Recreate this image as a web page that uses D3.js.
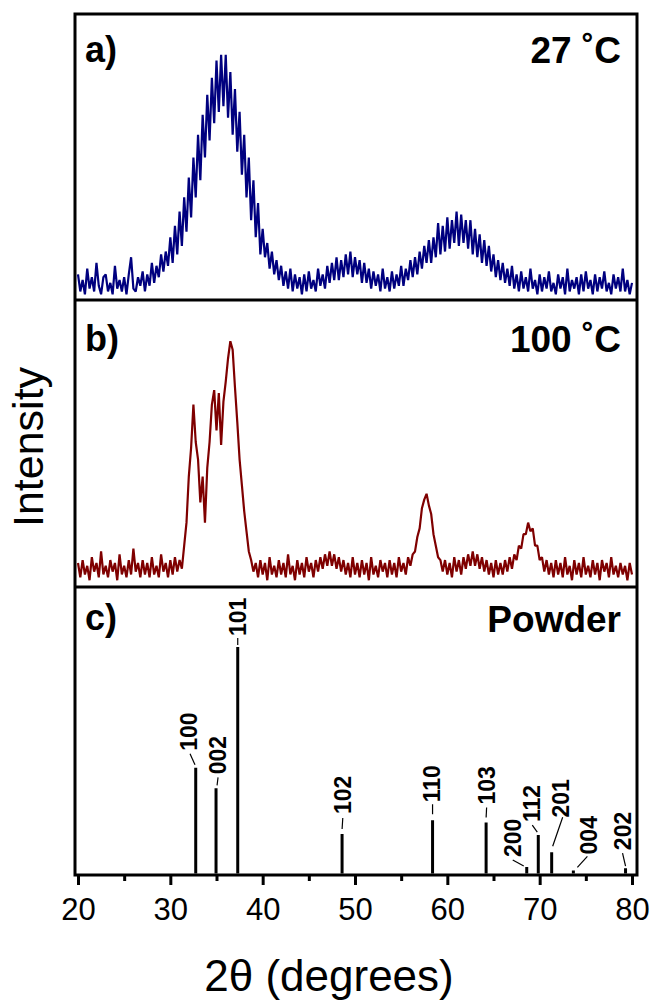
<!DOCTYPE html>
<html><head><meta charset="utf-8">
<script src="https://cdn.jsdelivr.net/npm/d3@7"></script>
<style>body{margin:0;background:#fff}svg text{font-family:"Liberation Sans",Arial,sans-serif}</style>
</head><body>
<script>
// ---------- data ----------
const scanStart = 20, scanStep = 0.25;   // 2θ grid of the scans
// a) 27 °C scan (a.u.), one row = 5°
const intensity27C = [
  9,3,7,2,11,4,8,3,13,5,2,8,9,3,6,2,12,4,7,3,
  8,2,9,15,4,3,8,5,10,3,9,5,13,6,12,8,16,10,17,12,
  22,13,26,16,31,19,36,24,43,29,50,36,58,42,65,50,72,56,78,62,
  84,66,86,68,86,64,80,58,74,52,66,44,58,36,50,28,42,22,34,16,
  25,15,20,11,17,9,14,7,12,5,10,4,11,3,9,4,8,2,9,3,
  10,4,7,3,11,5,9,4,12,6,13,7,15,7,14,8,16,9,17,8,
  15,9,14,6,13,6,11,4,10,5,9,3,11,4,8,3,10,4,9,5,
  12,5,11,7,14,8,15,9,17,11,19,13,21,13,22,15,27,16,26,17,
  29,18,28,20,31,19,30,20,28,18,28,16,25,15,23,13,21,12,19,10,
  16,8,14,7,13,6,11,5,12,4,9,3,10,4,8,3,11,4,7,2,
  9,3,8,4,10,3,6,2,9,4,8,2,11,3,7,4,8,2,9,3,
  10,4,7,2,9,3,8,4,10,3,6,2,9,4,8,3,11,3,7,2,
  6];
// b) 100 °C scan (a.u.)
const intensity100C = [
  8,3,9,4,7,2,10,5,8,3,12,4,7,3,9,5,8,2,11,4,
  7,3,9,4,13,5,8,3,9,4,8,3,10,4,7,3,11,5,8,3,
  9,4,10,5,9,6,14,22,38,48,63,50,44,29,38,22,41,50,63,68,
  54,67,49,64,71,79,85,82,69,57,44,35,26,19,12,9,5,8,3,9,
  4,8,2,10,4,7,3,9,4,8,3,11,4,7,2,9,4,8,3,10,
  5,8,3,9,5,10,6,11,7,12,7,11,6,10,5,9,4,8,3,10,
  4,8,3,9,4,8,2,10,4,7,3,9,5,8,3,9,4,8,3,10,
  5,8,4,10,7,11,12,17,20,27,30,32,28,25,18,14,10,9,5,9,
  4,8,3,10,5,9,4,10,6,11,7,12,7,11,6,10,5,9,4,8,
  3,9,4,8,4,9,5,10,6,11,9,14,13,18,18,22,19,20,14,14,
  9,10,5,9,4,8,3,9,4,8,3,10,4,7,2,9,4,8,3,10,
  4,7,3,9,4,8,2,9,5,8,3,10,4,7,3,8,4,7,2,8,
  4];
// c) powder reference pattern
const powderHKL = ["100","002","101","102","110","103","200","112","201","004","202"];
const powderTwoTheta = [32.75,34.95,37.3,48.6,58.4,64.2,68.6,69.85,71.3,73.65,79.3];
const powderIntensity = [47,38,100,18,24,23,3.5,17.5,10,2,3];

const xTicks = [20,30,40,50,60,70,80];
const xMinorTicks = [25,35,45,55,65,75];
const panelLetters = ["a)","b)","c)"];
const panelTitles = ["27 \u02DAC","100 \u02DAC","Powder"];

// ---------- layout (pixels) ----------
const W = 654, H = 1003;
const L = 75, R = 637, T = 14, D1 = 300, D2 = 587, B = 875;
// hkl label anchor offsets and leader lines, relative to the stick top
const labelOffset = [[-6.7,-17],[1.5,-14],[0.3,-11],[0.7,-20],[-0.3,-18],[1,-18],[-14.2,-10],[-5.8,-13],[9.3,-34.7],[15.7,-16],[-2.3,-18]];
const leaderLine = [[-5.7,-14,-0.7,-3],[2,-11,1,-3],[0,-9,0,-2],[0.7,-16,0,-5],[0,-16,0,-6],[0.5,-15,0,-5],[-14,-7,-3,-1],[-6,-10,-1,-3],[11,-35,1,-6],[14,-14,4,-3],[-3,-15,0,-2]];

const svg = d3.select("body").append("svg").attr("width", W).attr("height", H);
const x = d3.scaleLinear().domain([20, 80]).range([78, 632]);
const yA = d3.scaleLinear().domain([0, 100]).range([300, 15]);
const yB = d3.scaleLinear().domain([0, 100]).range([586, 298]);
const yC = d3.scaleLinear().domain([0, 100]).range([B, 647]);

const defs = svg.append("defs");
[[T, D1, "clipA"], [D1, D2, "clipB"], [D2, B, "clipC"]].forEach(([t, b, id]) => {
  defs.append("clipPath").attr("id", id).append("rect")
    .attr("x", L + 1.5).attr("y", t + 1.5).attr("width", R - L - 3).attr("height", b - t - 3);
});

function drawScan(values, yScale, color, clip) {
  const pts = values.map((v, i) => [scanStart + i * scanStep, v]);
  svg.append("path").datum(pts)
    .attr("clip-path", `url(#${clip})`)
    .attr("fill", "none").attr("stroke", color).attr("stroke-width", 2.2)
    .attr("stroke-linejoin", "bevel")
    .attr("d", d3.line().x(d => x(d[0])).y(d => yScale(d[1])));
}
drawScan(intensity27C, yA, "#00007f", "clipA");
drawScan(intensity100C, yB, "#7f0000", "clipB");

// powder sticks
const gC = svg.append("g").attr("clip-path", "url(#clipC)");
powderTwoTheta.forEach((t, i) => {
  const sx = x(t), sy = yC(powderIntensity[i]);
  gC.append("line").attr("x1", sx).attr("x2", sx).attr("y1", yC(0)).attr("y2", sy)
    .attr("stroke", "#000").attr("stroke-width", 3);
  const ll = leaderLine[i];
  gC.append("line").attr("x1", sx + ll[0]).attr("y1", sy + ll[1]).attr("x2", sx + ll[2]).attr("y2", sy + ll[3])
    .attr("stroke", "#000").attr("stroke-width", 1.2);
  const lo = labelOffset[i];
  gC.append("text").attr("transform", `translate(${sx + lo[0]},${sy + lo[1]}) rotate(-90)`)
    .attr("text-anchor", "start").attr("dominant-baseline", "central")
    .style("font-size", "23px").style("font-weight", "bold").text(powderHKL[i]);
});

// frame and dividers
svg.append("rect").attr("x", L).attr("y", T).attr("width", R - L).attr("height", B - T)
  .attr("fill", "none").attr("stroke", "#000").attr("stroke-width", 3);
[D1, D2].forEach(d => svg.append("line").attr("x1", L).attr("x2", R).attr("y1", d).attr("y2", d)
  .attr("stroke", "#000").attr("stroke-width", 3));

// x axis
const axMinor = svg.append("g").attr("transform", `translate(0,${B})`)
  .call(d3.axisBottom(x).tickValues(xMinorTicks).tickSize(6).tickFormat(""));
const axMajor = svg.append("g").attr("transform", `translate(0,${B})`)
  .call(d3.axisBottom(x).tickValues(xTicks).tickSize(10).tickPadding(13).tickFormat(d3.format("d")));
[axMinor, axMajor].forEach(g => {
  g.select(".domain").remove();
  g.selectAll(".tick line").attr("stroke", "#000").attr("stroke-width", 3);
});
axMajor.selectAll(".tick text").attr("fill", "#000")
  .style("font-size", "31px").style("font-family", "'Liberation Sans',Arial,sans-serif");

// panel letters and titles
const letterBase = [62, 351, 630];
const titleBase = [63, 352, 632];
panelLetters.forEach((s, i) => {
  svg.append("text").attr("x", 85).attr("y", letterBase[i])
    .style("font-size", "36px").style("font-weight", "bold").text(s);
  svg.append("text").attr("x", 621).attr("y", titleBase[i]).attr("text-anchor", "end")
    .style("font-size", "37px").style("font-weight", "bold").text(panelTitles[i]);
});

// axis titles
svg.append("text").attr("transform", "translate(43,447) rotate(-90)")
  .attr("text-anchor", "middle").style("font-size", "43px").text("Intensity");
svg.append("text").attr("x", 329).attr("y", 991).attr("text-anchor", "middle")
  .style("font-size", "44px").text("2\u03B8 (degrees)");
</script>
</body></html>
